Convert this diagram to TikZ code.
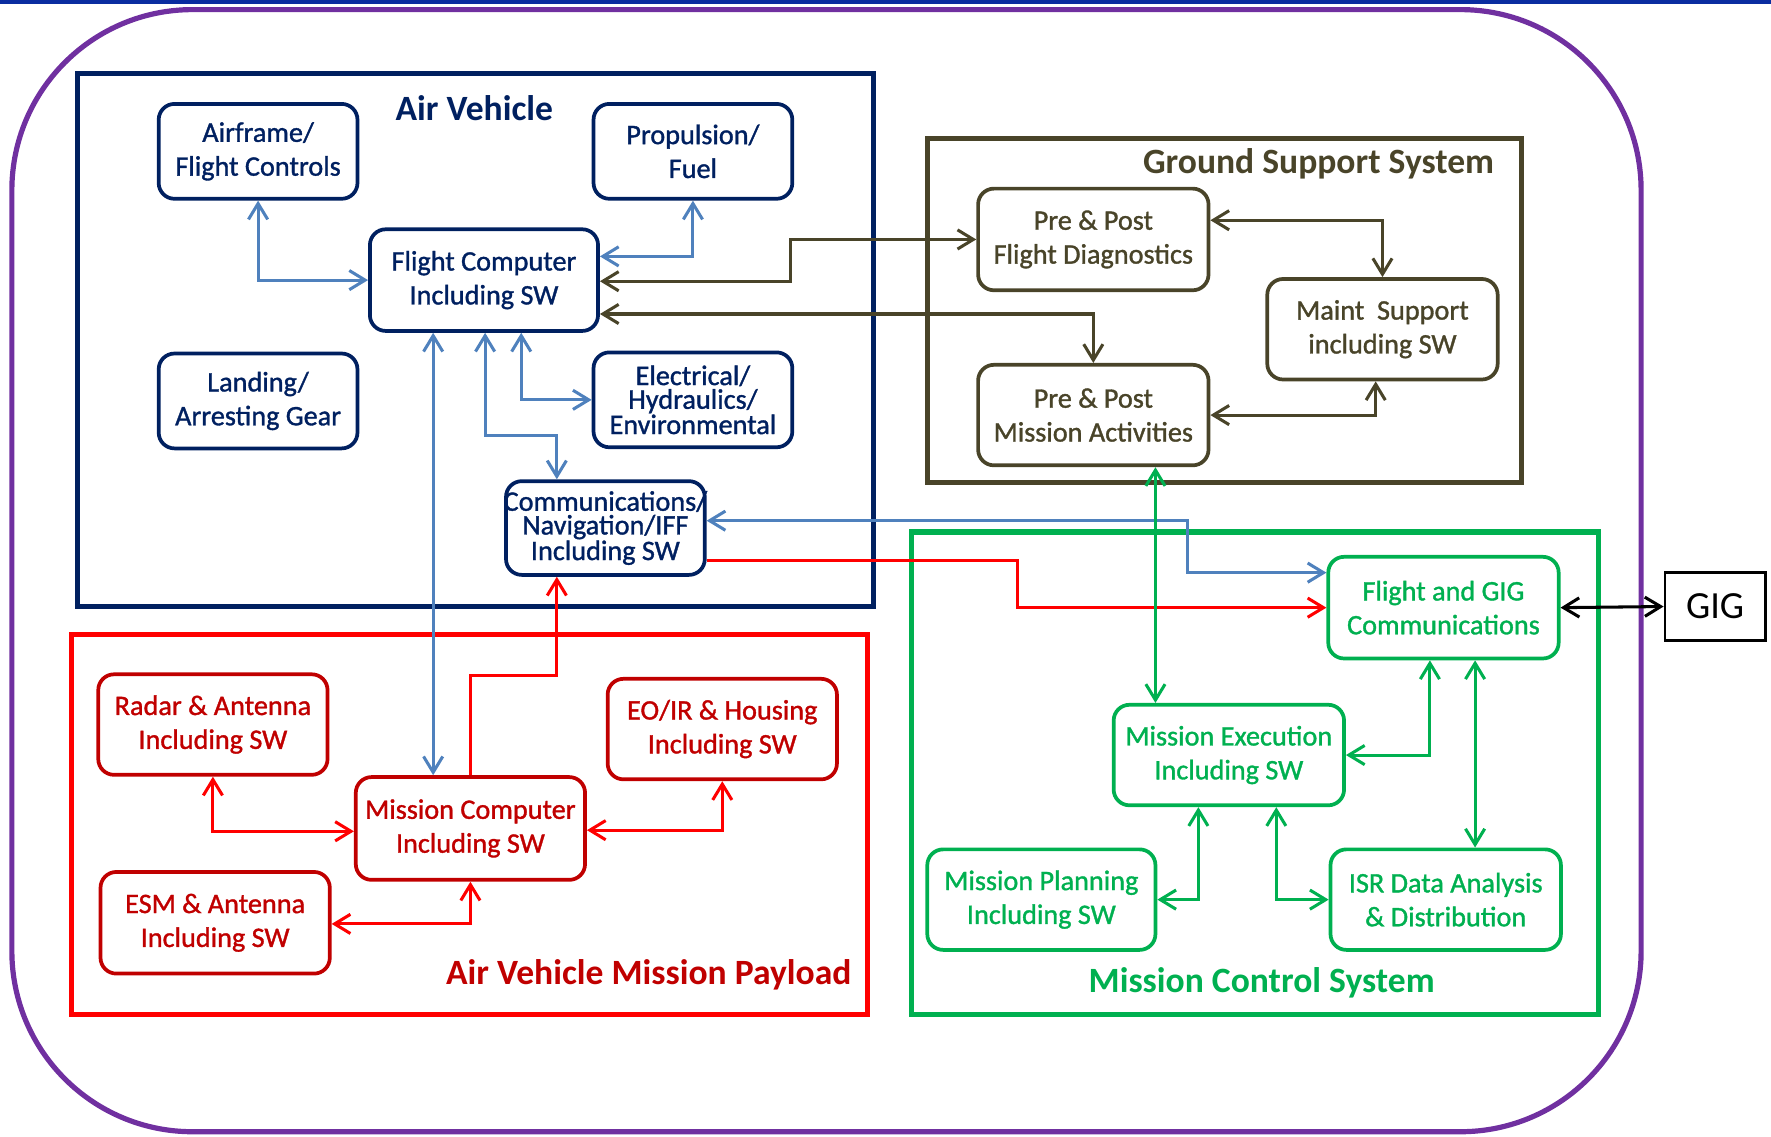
\documentclass[tikz,border=0pt]{standalone}
\usepackage{fontspec}
\setmainfont{Carlito}
\newfontfamily\unitfamily{Carlito}[FakeBold=1.2]
\usetikzlibrary{arrows.meta}

\definecolor{navy}{HTML}{002060}
\definecolor{linkblue}{HTML}{4F81BD}
\definecolor{olivebrown}{HTML}{494429}
\definecolor{mcsgreen}{HTML}{00B050}
\definecolor{payred}{HTML}{FF0000}
\definecolor{darkred}{HTML}{C00000}
\definecolor{ringpurple}{HTML}{7030A0}
\definecolor{barblue}{HTML}{0A2DA0}

\newcommand\boxtextfont{\unitfamily\fontsize{25}{30}\selectfont}
\newcommand\tighttextfont{\unitfamily\fontsize{25}{21}\selectfont}
\newcommand\grouptitlefont{\fontsize{31.5}{36}\selectfont\bfseries}

\begin{document}
\begin{tikzpicture}[x=1pt,y=-1pt,
  >={Straight Barb[length=14pt,width=17pt]},
  unit/.style={draw, rounded corners=14pt, line width=3.3pt, align=center,
    inner sep=0pt, font=\boxtextfont, minimum width=204pt, minimum height=90pt},
  avunit/.style={unit, draw=navy, text=navy, minimum width=176pt, minimum height=84pt},
  gsunit/.style={unit, draw=olivebrown, text=olivebrown},
  mcsunit/.style={unit, draw=mcsgreen, text=mcsgreen},
  payunit/.style={unit, draw=darkred, text=darkred},
  frame/.style={line width=4.5pt},
  grouptitle/.style={font=\grouptitlefont, inner sep=0pt},
  link/.style={line width=2.7pt},
  bluelink/.style={link, draw=linkblue},
  olivelink/.style={link, draw=olivebrown},
  greenlink/.style={link, draw=mcsgreen},
  redlink/.style={link, draw=payred},
]
\useasboundingbox (0,0) rectangle (1568,1006);

% banner line and enclosing ring
\fill[barblue] (0,0) rectangle (1568,3.5);
\draw[ringpurple, line width=4.6pt, rounded corners=160pt] (10.5,8.5) rectangle (1453,1002);

% group frames
\draw[frame, navy] (69,65) rectangle (773,537);
\draw[frame, olivebrown] (821,123) rectangle (1347,427);
\draw[frame, mcsgreen] (807,471) rectangle (1415,898);
\draw[frame, payred] (63,562) rectangle (768,898);

% group titles
\node[grouptitle, text=navy, anchor=base] (avtitle) at (420,107) {Air Vehicle};
\node[grouptitle, text=olivebrown, anchor=base east] (gstitle) at (1323,154) {Ground Support System};
\node[grouptitle, text=mcsgreen, anchor=base] (mcstitle) at (1117,879) {Mission Control System};
\node[grouptitle, text=darkred, anchor=base east] (paytitle) at (754,872) {Air Vehicle Mission Payload};

% air vehicle units
\node[avunit] (airframe) at (228.5,134) {Airframe/\\Flight Controls};
\node[avunit] (prop) at (613.5,134) {Propulsion/\\Fuel};
\node[avunit, minimum width=202pt, minimum height=90pt] (fc) at (428.5,248) {Flight Computer\\Including SW};
\node[avunit] (landing) at (228.5,355) {Landing/\\Arresting Gear};
\node[avunit, font=\tighttextfont] (elec) at (613.5,354) {Electrical/\\Hydraulics/\\Environmental};
\node[avunit, font=\tighttextfont, minimum height=83pt] (comms) at (536,467.5)
  {\makebox[0pt]{Communications/}\\\makebox[0pt]{Navigation/IFF}\\\makebox[0pt]{Including SW}};

% ground support units
\node[gsunit] (fd) at (968,212) {Pre \& Post\\Flight Diagnostics};
\node[gsunit, minimum height=89pt] (maint) at (1224,291.5) {Maint~ Support\\including SW};
\node[gsunit, minimum height=89pt] (ma) at (968,367.5) {Pre \& Post\\Mission Activities};

% mission control units
\node[mcsunit] (fgig) at (1278,538) {Flight and GIG\\Communications};
\node[mcsunit, minimum height=89pt] (me) at (1088,668.5) {Mission Execution\\Including SW};
\node[mcsunit, minimum width=202pt, minimum height=89pt] (mp) at (922,796.5) {Mission Planning\\Including SW};
\node[mcsunit, minimum height=89pt] (isr) at (1280,796.5) {ISR Data Analysis\\\& Distribution};
\node[draw=black, line width=2.2pt, minimum width=89pt, minimum height=60pt, inner sep=0pt,
  font=\fontsize{34}{40}\selectfont] (gig) at (1518.5,537) {GIG};

% payload units
\node[payunit, minimum width=203pt, minimum height=89pt] (radar) at (188.5,641.5) {Radar \& Antenna\\Including SW};
\node[payunit, minimum width=203pt, minimum height=89pt] (eo) at (639.5,645.5) {EO/IR \& Housing\\Including SW};
\node[payunit, minimum width=203pt, minimum height=91pt] (mc) at (416.5,733.5) {Mission Computer\\Including SW};
\node[payunit, minimum width=203pt] (esm) at (190.5,817) {ESM \& Antenna\\Including SW};

% air vehicle links
\draw[bluelink, <->] (airframe.south) |- (fc.west);
\draw[bluelink, <->] (prop.south) |- ([yshift=21pt]fc.east);
\draw[bluelink, <->] ([xshift=33pt]fc.south) |- (elec.west);
\draw[bluelink, <->] ([xshift=1pt]fc.south) |- ([xshift=-43pt,yshift=39pt]comms.north) -- ([xshift=-43pt]comms.north);
\draw[bluelink, <->] ([xshift=-45pt]fc.south) -- ([xshift=-45pt]fc.south |- mc.north);
\draw[bluelink, <->] ([yshift=6.5pt]comms.east) -| (1051,507) -- ([yshift=31pt]fgig.west);

% payload links
\draw[redlink, ->] ([yshift=-28.5pt]comms.east) -| (901,538) -- (fgig.west);
\draw[redlink, ->] (mc.north) -- ++(0,-88) -| ([xshift=-43pt]comms.south);
\draw[redlink, <->] (radar.south) |- ([yshift=-2.5pt]mc.west);
\draw[redlink, <->] (eo.south) |- ([yshift=-1.5pt]mc.east);
\draw[redlink, <->] ([yshift=-1pt]esm.east) -| (mc.south);

% ground support links
\draw[olivelink, <->] ([yshift=-1pt]fc.east) -| (700,212) -- (fd.west);
\draw[olivelink, <->] ([yshift=-30pt]fc.east) -| (ma.north);
\draw[olivelink, <->] ([yshift=17pt]fd.east) -| (maint.north);
\draw[olivelink, <->] (ma.east) -| ([xshift=-6pt]maint.south);

% mission control links
\draw[greenlink, <->] ([xshift=55pt]ma.south) -- ([xshift=55pt]ma.south |- me.north);
\draw[greenlink, <->] (me.east) -| ([xshift=-12pt]fgig.south);
\draw[greenlink, <->] ([xshift=28pt]fgig.south) -- ([xshift=28pt]fgig.south |- isr.north);
\draw[greenlink, <->] ([xshift=-27pt]me.south) |- (mp.east);
\draw[greenlink, <->] ([xshift=42pt]me.south) |- (isr.west);
\draw[link, black, <->] (fgig.east) -- (gig.west);
\end{tikzpicture}
\end{document}
